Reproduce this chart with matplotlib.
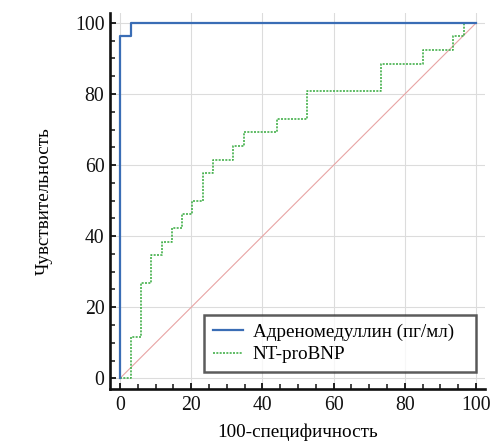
import matplotlib
matplotlib.use("Agg")
import matplotlib.pyplot as plt
from matplotlib.ticker import MultipleLocator

plt.rcParams['font.family'] = ['Liberation Serif', 'DejaVu Serif']

# ROC corner points (steps drawn post-wise)
adm_fpr = [0, 0, 3.0, 100]
adm_tpr = [0, 96.2, 100, 100]

bnp_fpr = [0, 3.0, 5.8, 8.6, 11.7, 14.5, 17.3, 20.2, 23.2, 26.2, 31.8, 34.9,
           44.0, 52.6, 73.2, 85.2, 93.6, 96.6, 100]
bnp_tpr = [0, 11.5, 26.9, 34.6, 38.5, 42.3, 46.2, 50.0, 57.7, 61.5, 65.4, 69.2,
           73.1, 80.8, 88.5, 92.3, 96.2, 100, 100]

ref_line = [0, 100]
ticks = [0, 20, 40, 60, 80, 100]

fig = plt.figure(figsize=(4.92, 4.41), dpi=100)
ax = fig.add_axes([0.2236, 0.1179, 0.7622, 0.8526])

ax.plot(ref_line, ref_line, color='#e8a4a4', lw=0.8, zorder=2)
ax.plot(bnp_fpr, bnp_tpr, drawstyle='steps-post', color='#44b04c',
        lw=1.2, ls=(0, (1.2, 0.8)), label='NT-proBNP', zorder=3)
ax.plot(adm_fpr, adm_tpr, drawstyle='steps-post', color='#3a6db5',
        lw=1.6, label='Адреномедуллин (пг/мл)', zorder=4)

ax.set_xlim(-2.8, 102.5)
ax.set_ylim(-3.0, 102.8)
ax.set_xticks(ticks)
ax.set_yticks(ticks)
ax.xaxis.set_minor_locator(MultipleLocator(5))
ax.yaxis.set_minor_locator(MultipleLocator(5))
ax.grid(True, which='major', color='#dcdcdc', lw=0.8, zorder=0)

for side in ('top', 'right'):
    ax.spines[side].set_visible(False)
for side in ('left', 'bottom'):
    ax.spines[side].set_linewidth(1.9)
    ax.spines[side].set_color('#111111')

ax.tick_params(which='major', direction='in', length=4.5, width=1.3,
               labelsize=14.2, colors='#111111')
ax.tick_params(which='minor', direction='in', length=3.4, width=1.1,
               colors='#111111')
ax.tick_params(axis='x', which='major', pad=5)
ax.tick_params(axis='y', which='major', pad=4)

ax.set_xlabel('100-специфичность', fontsize=13.8, labelpad=6)
ax.set_ylabel('Чувствительность', fontsize=13.8, labelpad=16)

handles, labels = ax.get_legend_handles_labels()
leg = ax.legend(handles[::-1], labels[::-1], loc='lower left',
                bbox_to_anchor=(0.2507, 0.0452, 0.7253, 0.15), mode='expand',
                fontsize=13.8, frameon=True, fancybox=False,
                handlelength=1.6, handletextpad=0.5, borderpad=0.45,
                labelspacing=0.25, borderaxespad=0.0)
leg.get_frame().set_edgecolor('#333333')
leg.get_frame().set_linewidth(1.8)

fig.savefig('out.png', dpi=100)
